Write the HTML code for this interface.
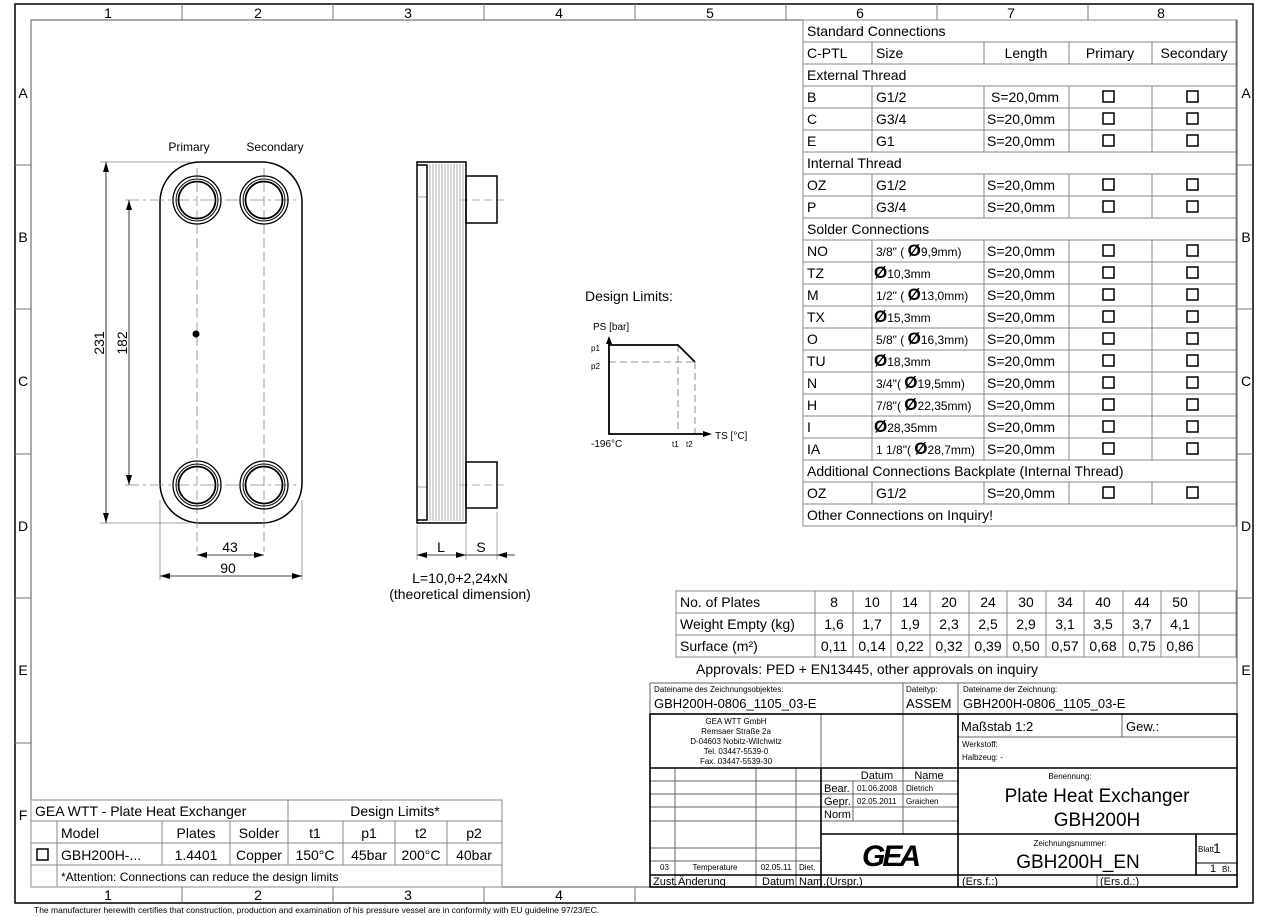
<!DOCTYPE html>
<html><head><meta charset="utf-8"><style>
html,body{margin:0;padding:0;background:#fff;}
svg{display:block;font-family:"Liberation Sans",Arial,sans-serif;}
</style></head><body>
<svg width="1268" height="917" viewBox="0 0 1268 917" xmlns="http://www.w3.org/2000/svg">
<defs>
<marker id="ar" viewBox="0 0 10 6" refX="10" refY="3" markerWidth="10" markerHeight="6" orient="auto-start-reverse" markerUnits="userSpaceOnUse"><path d="M0,0 L10,3 L0,6 z" fill="#000"/></marker>
</defs>
<rect width="1268" height="917" fill="#fff"/>
<rect x="15" y="4" width="1238" height="899" fill="none" stroke="#000" stroke-width="1.5"/>
<rect x="31" y="20" width="1206" height="867" fill="none" stroke="#555" stroke-width="1"/>
<g stroke="#777" stroke-width="1">
<line x1="182" y1="4" x2="182" y2="20"/><line x1="333" y1="4" x2="333" y2="20"/><line x1="484" y1="4" x2="484" y2="20"/><line x1="635" y1="4" x2="635" y2="20"/><line x1="786" y1="4" x2="786" y2="20"/><line x1="937" y1="4" x2="937" y2="20"/><line x1="1088" y1="4" x2="1088" y2="20"/>
<line x1="182" y1="887" x2="182" y2="903"/><line x1="333" y1="887" x2="333" y2="903"/><line x1="484" y1="887" x2="484" y2="903"/><line x1="635" y1="887" x2="635" y2="903"/>
<line x1="15" y1="165" x2="31" y2="165"/><line x1="15" y1="309" x2="31" y2="309"/><line x1="15" y1="454" x2="31" y2="454"/><line x1="15" y1="598" x2="31" y2="598"/><line x1="15" y1="743" x2="31" y2="743"/>
<line x1="1237" y1="165" x2="1253" y2="165"/><line x1="1237" y1="309" x2="1253" y2="309"/><line x1="1237" y1="454" x2="1253" y2="454"/><line x1="1237" y1="598" x2="1253" y2="598"/>
</g>
<g font-size="14" text-anchor="middle">
<text x="108" y="18">1</text><text x="258" y="18">2</text><text x="408" y="18">3</text><text x="559" y="18">4</text><text x="710" y="18">5</text><text x="860" y="18">6</text><text x="1011" y="18">7</text><text x="1161" y="18">8</text>
<text x="108" y="900">1</text><text x="258" y="900">2</text><text x="408" y="900">3</text><text x="559" y="900">4</text>
<text x="23" y="98">A</text><text x="23" y="242">B</text><text x="23" y="386">C</text><text x="23" y="531">D</text><text x="23" y="675">E</text><text x="23" y="820">F</text>
<text x="1246" y="98">A</text><text x="1246" y="242">B</text><text x="1246" y="386">C</text><text x="1246" y="531">D</text><text x="1246" y="675">E</text>
</g>
<text x="34" y="913" font-size="8.5">The manufacturer herewith certifies that construction, production and examination of his pressure vessel are in conformity with EU guideline 97/23/EC.</text>

<text x="189" y="151" font-size="12" text-anchor="middle">Primary</text>
<text x="275" y="151" font-size="12" text-anchor="middle">Secondary</text>
<rect x="160" y="162" width="142" height="361" rx="40" fill="none" stroke="#000" stroke-width="1.5"/>
<g stroke="#888" stroke-width="0.8">
<line x1="100" y1="162" x2="190" y2="162"/><line x1="100" y1="523" x2="190" y2="523"/>
<line x1="125" y1="200" x2="300" y2="200" stroke-dasharray="14,4,3,4"/><line x1="125" y1="485" x2="300" y2="485" stroke-dasharray="14,4,3,4"/>
<line x1="197" y1="168" x2="197" y2="552" stroke-dasharray="10,4"/><line x1="264" y1="168" x2="264" y2="552" stroke-dasharray="10,4"/>
<line x1="160" y1="500" x2="160" y2="580"/><line x1="302" y1="500" x2="302" y2="580"/>
</g>
<g fill="none" stroke="#000">
<circle cx="197" cy="200" r="24" stroke-width="1.3"/><circle cx="197" cy="200" r="21" stroke-width="1"/><circle cx="197" cy="200" r="18.5" stroke-width="1.8"/>
<circle cx="264" cy="200" r="24" stroke-width="1.3"/><circle cx="264" cy="200" r="21" stroke-width="1"/><circle cx="264" cy="200" r="18.5" stroke-width="1.8"/>
<circle cx="197" cy="485" r="24" stroke-width="1.3"/><circle cx="197" cy="485" r="21" stroke-width="1"/><circle cx="197" cy="485" r="18.5" stroke-width="1.8"/>
<circle cx="264" cy="485" r="24" stroke-width="1.3"/><circle cx="264" cy="485" r="21" stroke-width="1"/><circle cx="264" cy="485" r="18.5" stroke-width="1.8"/>
</g>
<circle cx="196" cy="334" r="3.5" fill="#000"/>
<g stroke="#000" stroke-width="0.8" fill="none">
<line x1="106" y1="162" x2="106" y2="523" marker-start="url(#ar)" marker-end="url(#ar)"/>
<line x1="129" y1="200" x2="129" y2="485" marker-start="url(#ar)" marker-end="url(#ar)"/>
<line x1="197" y1="555" x2="264" y2="555" marker-start="url(#ar)" marker-end="url(#ar)"/>
<line x1="160" y1="576" x2="302" y2="576" marker-start="url(#ar)" marker-end="url(#ar)"/>
</g>
<text x="230" y="552" font-size="14" text-anchor="middle">43</text>
<text x="228" y="573" font-size="14" text-anchor="middle">90</text>
<text transform="translate(104,343) rotate(-90)" font-size="14" text-anchor="middle">231</text>
<text transform="translate(127,343) rotate(-90)" font-size="14" text-anchor="middle">182</text>

<g stroke="#999" stroke-width="0.8">
<line x1="430" y1="164" x2="430" y2="521"/><line x1="433" y1="164" x2="433" y2="521"/><line x1="436" y1="164" x2="436" y2="521"/><line x1="439" y1="164" x2="439" y2="521"/><line x1="442" y1="164" x2="442" y2="521"/><line x1="445" y1="164" x2="445" y2="521"/><line x1="448" y1="164" x2="448" y2="521"/><line x1="451" y1="164" x2="451" y2="521"/><line x1="454" y1="164" x2="454" y2="521"/><line x1="457" y1="164" x2="457" y2="521"/><line x1="460" y1="164" x2="460" y2="521"/><line x1="463" y1="164" x2="463" y2="521"/>
<line x1="418" y1="197" x2="427" y2="197"/><line x1="418" y1="487" x2="427" y2="487"/>
<line x1="460" y1="200" x2="506" y2="200" stroke-dasharray="8,4"/><line x1="460" y1="485" x2="506" y2="485" stroke-dasharray="8,4"/>
<line x1="417" y1="525" x2="417" y2="560"/><line x1="466" y1="525" x2="466" y2="560"/><line x1="497" y1="512" x2="497" y2="560"/>
</g>
<g fill="none" stroke="#000" stroke-width="1.5">
<rect x="417" y="162" width="49" height="361"/>
<path d="M417,165 H427 V520 H417"/>
<rect x="466" y="176" width="31" height="47"/>
<rect x="466" y="462" width="31" height="46"/>
</g>
<g stroke="#000" stroke-width="0.8">
<line x1="417" y1="555" x2="466" y2="555" marker-start="url(#ar)" marker-end="url(#ar)"/>
<line x1="466" y1="555" x2="497" y2="555"/>
<line x1="515" y1="555" x2="497" y2="555" marker-end="url(#ar)"/>
</g>
<text x="441" y="552" font-size="14" text-anchor="middle">L</text>
<text x="481" y="552" font-size="14" text-anchor="middle">S</text>
<text x="460" y="583" font-size="14" text-anchor="middle">L=10,0+2,24xN</text>
<text x="460" y="599" font-size="14" text-anchor="middle">(theoretical dimension)</text>

<text x="585" y="301" font-size="14">Design Limits:</text>
<text x="593" y="330" font-size="10">PS [bar]</text>
<text x="591" y="351" font-size="8">p1</text>
<text x="591" y="369" font-size="8">p2</text>
<text x="591" y="447" font-size="10">-196°C</text>
<text x="672" y="447" font-size="8">t1</text>
<text x="686" y="447" font-size="8">t2</text>
<text x="715" y="439" font-size="10">TS [°C]</text>
<g stroke="#777" stroke-width="0.8" stroke-dasharray="7,4" fill="none">
<line x1="609" y1="362" x2="695" y2="362"/><line x1="678" y1="345" x2="678" y2="434"/><line x1="695" y1="362" x2="695" y2="434"/>
</g>
<g stroke="#000" stroke-width="1.8" fill="none">
<polyline points="609,338 609,434 705,434"/>
<polyline points="609,345 678,345 695,362"/>
</g>
<path d="M606,344 L609,336 L612,344 z" fill="#000"/>
<path d="M703,431 L712,434 L703,437 z" fill="#000"/>

<g stroke="#888" stroke-width="1" fill="none">
<rect x="803" y="20" width="433" height="506"/>
<line x1="803" y1="42" x2="1236" y2="42"/><line x1="803" y1="64" x2="1236" y2="64"/><line x1="803" y1="86" x2="1236" y2="86"/><line x1="803" y1="108" x2="1236" y2="108"/><line x1="803" y1="130" x2="1236" y2="130"/><line x1="803" y1="152" x2="1236" y2="152"/><line x1="803" y1="174" x2="1236" y2="174"/><line x1="803" y1="196" x2="1236" y2="196"/><line x1="803" y1="218" x2="1236" y2="218"/><line x1="803" y1="240" x2="1236" y2="240"/><line x1="803" y1="262" x2="1236" y2="262"/><line x1="803" y1="284" x2="1236" y2="284"/><line x1="803" y1="306" x2="1236" y2="306"/><line x1="803" y1="328" x2="1236" y2="328"/><line x1="803" y1="350" x2="1236" y2="350"/><line x1="803" y1="372" x2="1236" y2="372"/><line x1="803" y1="394" x2="1236" y2="394"/><line x1="803" y1="416" x2="1236" y2="416"/><line x1="803" y1="438" x2="1236" y2="438"/><line x1="803" y1="460" x2="1236" y2="460"/><line x1="803" y1="482" x2="1236" y2="482"/><line x1="803" y1="504" x2="1236" y2="504"/>
</g>
<g stroke="#888" stroke-width="1">
<line x1="872" y1="42" x2="872" y2="64"/><line x1="984" y1="42" x2="984" y2="64"/><line x1="1069" y1="42" x2="1069" y2="64"/><line x1="1152" y1="42" x2="1152" y2="64"/>
<line x1="872" y1="86" x2="872" y2="152"/><line x1="984" y1="86" x2="984" y2="152"/><line x1="1069" y1="86" x2="1069" y2="152"/><line x1="1152" y1="86" x2="1152" y2="152"/>
<line x1="872" y1="174" x2="872" y2="218"/><line x1="984" y1="174" x2="984" y2="218"/><line x1="1069" y1="174" x2="1069" y2="218"/><line x1="1152" y1="174" x2="1152" y2="218"/>
<line x1="872" y1="240" x2="872" y2="460"/><line x1="984" y1="240" x2="984" y2="460"/><line x1="1069" y1="240" x2="1069" y2="460"/><line x1="1152" y1="240" x2="1152" y2="460"/>
<line x1="872" y1="482" x2="872" y2="504"/><line x1="984" y1="482" x2="984" y2="504"/><line x1="1069" y1="482" x2="1069" y2="504"/><line x1="1152" y1="482" x2="1152" y2="504"/>
</g>
<g font-size="14">
<text x="807" y="36">Standard Connections</text>
<text x="807" y="58">C-PTL</text><text x="876" y="58">Size</text><text x="1026" y="58" text-anchor="middle">Length</text><text x="1110" y="58" text-anchor="middle">Primary</text><text x="1194" y="58" text-anchor="middle">Secondary</text>
<text x="807" y="80">External Thread</text>
<text x="807" y="102">B</text><text x="876" y="102">G1/2</text><text x="991" y="102">S=20,0mm</text>
<text x="807" y="124">C</text><text x="876" y="124">G3/4</text><text x="987" y="124">S=20,0mm</text>
<text x="807" y="146">E</text><text x="876" y="146">G1</text><text x="987" y="146">S=20,0mm</text>
<text x="807" y="168">Internal Thread</text>
<text x="807" y="190">OZ</text><text x="876" y="190">G1/2</text><text x="987" y="190">S=20,0mm</text>
<text x="807" y="212">P</text><text x="876" y="212">G3/4</text><text x="987" y="212">S=20,0mm</text>
<text x="807" y="234">Solder Connections</text>
<text x="807" y="256">NO</text><text x="987" y="256">S=20,0mm</text>
<text x="807" y="278">TZ</text><text x="987" y="278">S=20,0mm</text>
<text x="807" y="300">M</text><text x="987" y="300">S=20,0mm</text>
<text x="807" y="322">TX</text><text x="987" y="322">S=20,0mm</text>
<text x="807" y="344">O</text><text x="987" y="344">S=20,0mm</text>
<text x="807" y="366">TU</text><text x="987" y="366">S=20,0mm</text>
<text x="807" y="388">N</text><text x="987" y="388">S=20,0mm</text>
<text x="807" y="410">H</text><text x="987" y="410">S=20,0mm</text>
<text x="807" y="432">I</text><text x="987" y="432">S=20,0mm</text>
<text x="807" y="454">IA</text><text x="987" y="454">S=20,0mm</text>
<text x="807" y="476">Additional Connections Backplate (Internal Thread)</text>
<text x="807" y="498">OZ</text><text x="876" y="498">G1/2</text><text x="987" y="498">S=20,0mm</text>
<text x="807" y="520">Other Connections on Inquiry!</text>
</g>
<g font-size="12">
<text x="876" y="256">3/8" ( <tspan font-size="17" font-weight="bold">Ø</tspan>9,9mm)</text>
<text x="874" y="278"><tspan font-size="17" font-weight="bold">Ø</tspan>10,3mm</text>
<text x="876" y="300">1/2" ( <tspan font-size="17" font-weight="bold">Ø</tspan>13,0mm)</text>
<text x="874" y="322"><tspan font-size="17" font-weight="bold">Ø</tspan>15,3mm</text>
<text x="876" y="344">5/8" (  <tspan font-size="17" font-weight="bold">Ø</tspan>16,3mm)</text>
<text x="874" y="366"><tspan font-size="17" font-weight="bold">Ø</tspan>18,3mm</text>
<text x="876" y="388">3/4"( <tspan font-size="17" font-weight="bold">Ø</tspan>19,5mm)</text>
<text x="876" y="410">7/8"( <tspan font-size="17" font-weight="bold">Ø</tspan>22,35mm)</text>
<text x="874" y="432"><tspan font-size="17" font-weight="bold">Ø</tspan>28,35mm</text>
<text x="876" y="454">1 1/8"( <tspan font-size="17" font-weight="bold">Ø</tspan>28,7mm)</text>
</g>
<g fill="none" stroke="#000" stroke-width="1.5">
<rect x="1103" y="91" width="11" height="11"/><rect x="1187" y="91" width="11" height="11"/>
<rect x="1103" y="113" width="11" height="11"/><rect x="1187" y="113" width="11" height="11"/>
<rect x="1103" y="135" width="11" height="11"/><rect x="1187" y="135" width="11" height="11"/>
<rect x="1103" y="179" width="11" height="11"/><rect x="1187" y="179" width="11" height="11"/>
<rect x="1103" y="201" width="11" height="11"/><rect x="1187" y="201" width="11" height="11"/>
<rect x="1103" y="245" width="11" height="11"/><rect x="1187" y="245" width="11" height="11"/>
<rect x="1103" y="267" width="11" height="11"/><rect x="1187" y="267" width="11" height="11"/>
<rect x="1103" y="289" width="11" height="11"/><rect x="1187" y="289" width="11" height="11"/>
<rect x="1103" y="311" width="11" height="11"/><rect x="1187" y="311" width="11" height="11"/>
<rect x="1103" y="333" width="11" height="11"/><rect x="1187" y="333" width="11" height="11"/>
<rect x="1103" y="355" width="11" height="11"/><rect x="1187" y="355" width="11" height="11"/>
<rect x="1103" y="377" width="11" height="11"/><rect x="1187" y="377" width="11" height="11"/>
<rect x="1103" y="399" width="11" height="11"/><rect x="1187" y="399" width="11" height="11"/>
<rect x="1103" y="421" width="11" height="11"/><rect x="1187" y="421" width="11" height="11"/>
<rect x="1103" y="443" width="11" height="11"/><rect x="1187" y="443" width="11" height="11"/>
<rect x="1103" y="487" width="11" height="11"/><rect x="1187" y="487" width="11" height="11"/>
</g>

<g stroke="#888" stroke-width="1" fill="none">
<rect x="676" y="591" width="560" height="66"/>
<line x1="676" y1="613" x2="1236" y2="613"/><line x1="676" y1="635" x2="1236" y2="635"/>
<line x1="815" y1="591" x2="815" y2="657"/><line x1="853" y1="591" x2="853" y2="657"/><line x1="891" y1="591" x2="891" y2="657"/><line x1="930" y1="591" x2="930" y2="657"/><line x1="969" y1="591" x2="969" y2="657"/><line x1="1007" y1="591" x2="1007" y2="657"/><line x1="1046" y1="591" x2="1046" y2="657"/><line x1="1084" y1="591" x2="1084" y2="657"/><line x1="1123" y1="591" x2="1123" y2="657"/><line x1="1161" y1="591" x2="1161" y2="657"/><line x1="1199" y1="591" x2="1199" y2="657"/>
</g>
<g font-size="14">
<text x="680" y="607">No. of Plates</text><text x="680" y="629">Weight Empty (kg)</text><text x="680" y="651">Surface (m²)</text>
</g>
<g font-size="14" text-anchor="middle">
<text x="834" y="607">8</text><text x="872" y="607">10</text><text x="910" y="607">14</text><text x="949" y="607">20</text><text x="988" y="607">24</text><text x="1026" y="607">30</text><text x="1065" y="607">34</text><text x="1103" y="607">40</text><text x="1142" y="607">44</text><text x="1180" y="607">50</text>
<text x="834" y="629">1,6</text><text x="872" y="629">1,7</text><text x="910" y="629">1,9</text><text x="949" y="629">2,3</text><text x="988" y="629">2,5</text><text x="1026" y="629">2,9</text><text x="1065" y="629">3,1</text><text x="1103" y="629">3,5</text><text x="1142" y="629">3,7</text><text x="1180" y="629">4,1</text>
<text x="834" y="651">0,11</text><text x="872" y="651">0,14</text><text x="910" y="651">0,22</text><text x="949" y="651">0,32</text><text x="988" y="651">0,39</text><text x="1026" y="651">0,50</text><text x="1065" y="651">0,57</text><text x="1103" y="651">0,68</text><text x="1142" y="651">0,75</text><text x="1180" y="651">0,86</text>
</g>
<text x="696" y="674" font-size="14">Approvals: PED + EN13445, other approvals on inquiry</text>

<g stroke="#666" stroke-width="1" fill="none">
<line x1="650" y1="683" x2="1237" y2="683"/>
<line x1="650" y1="683" x2="650" y2="887"/>
<line x1="903" y1="683" x2="903" y2="714"/><line x1="958" y1="683" x2="958" y2="714"/>
<line x1="821" y1="714" x2="821" y2="768"/><line x1="903" y1="714" x2="903" y2="768"/>
<line x1="1122" y1="714" x2="1122" y2="737"/><line x1="958" y1="737" x2="1237" y2="737"/>
<line x1="650" y1="781" x2="821" y2="781"/><line x1="650" y1="794" x2="958" y2="794"/><line x1="650" y1="807" x2="958" y2="807"/><line x1="650" y1="821" x2="958" y2="821"/><line x1="650" y1="848" x2="821" y2="848"/><line x1="650" y1="861" x2="821" y2="861"/>
<line x1="821" y1="781" x2="958" y2="781"/>
<line x1="675" y1="768" x2="675" y2="887"/><line x1="756" y1="768" x2="756" y2="887"/><line x1="796" y1="768" x2="796" y2="887"/>
<line x1="853" y1="781" x2="853" y2="821"/><line x1="903" y1="768" x2="903" y2="834"/>
<line x1="1097" y1="875" x2="1097" y2="887"/>
</g>
<g stroke="#000" stroke-width="1.6" fill="none">
<rect x="650" y="714" width="587" height="173"/>
<line x1="958" y1="714" x2="958" y2="887"/>
<line x1="650" y1="768" x2="1237" y2="768"/>
<line x1="821" y1="768" x2="821" y2="887"/>
<line x1="821" y1="834" x2="1237" y2="834"/>
<line x1="650" y1="875" x2="1237" y2="875"/>
<line x1="1196" y1="834" x2="1196" y2="875"/>
<line x1="1196" y1="863" x2="1237" y2="863" stroke-width="1"/>
</g>
<g font-size="8">
<text x="654" y="692">Dateiname des Zeichnungsobjektes:</text>
<text x="906" y="692">Dateityp:</text>
<text x="963" y="692">Dateiname der Zeichnung:</text>
<text x="962" y="747">Werkstoff:</text>
<text x="962" y="760">Halbzeug: -</text>
<text x="1070" y="779" text-anchor="middle">Benennung:</text>
<text x="1070" y="846" text-anchor="middle">Zeichnungsnummer:</text>
<text x="1198" y="852">Blatt</text>
<text x="660" y="870">03</text><text x="715" y="870" text-anchor="middle">Temperature</text><text x="776" y="870" text-anchor="middle">02.05.11</text><text x="799" y="870">Diet.</text>
<text x="857" y="791">01.06.2008</text><text x="906" y="791">Dietrich</text>
<text x="857" y="804">02.05.2011</text><text x="906" y="804">Graichen</text>
</g>
<g font-size="8" text-anchor="middle">
<text x="736" y="724">GEA WTT GmbH</text>
<text x="736" y="734">Remsaer Straße 2a</text>
<text x="736" y="744">D-04603 Nobitz-Wilchwitz</text>
<text x="736" y="754">Tel. 03447-5539-0</text>
<text x="736" y="764">Fax. 03447-5539-30</text>
</g>
<g font-size="13">
<text x="654" y="708">GBH200H-0806_1105_03-E</text>
<text x="906" y="708">ASSEM</text>
<text x="963" y="708">GBH200H-0806_1105_03-E</text>
<text x="961" y="731">Maßstab 1:2</text>
<text x="1126" y="731">Gew.:</text>
</g>
<g font-size="11">
<text x="877" y="779" text-anchor="middle">Datum</text><text x="929" y="779" text-anchor="middle">Name</text>
<text x="824" y="792">Bear.</text><text x="824" y="805">Gepr.</text><text x="824" y="818">Norm</text>
<text x="653" y="885">Zust.</text><text x="678" y="885">Änderung</text><text x="762" y="885">Datum</text><text x="799" y="885">Nam</text><text x="823" y="885">.(Urspr.)</text>
<text x="962" y="885">(Ers.f.:)</text><text x="1100" y="885">(Ers.d.:)</text>
<text x="1210" y="872">1</text><text x="1222" y="872" font-size="8">Bl.</text>
</g>
<text x="1213" y="853" font-size="14">1</text>
<text x="1097" y="802" font-size="19" text-anchor="middle">Plate Heat Exchanger</text>
<text x="1097" y="826" font-size="19" text-anchor="middle">GBH200H</text>
<text x="1078" y="868" font-size="19" text-anchor="middle">GBH200H_EN</text>
<text x="890" y="866" font-size="30" font-weight="bold" text-anchor="middle" font-style="italic" letter-spacing="-3">GEA</text>

<g stroke="#888" stroke-width="1" fill="none">
<rect x="31" y="800" width="471" height="87"/>
<line x1="31" y1="821" x2="502" y2="821"/><line x1="31" y1="843" x2="502" y2="843"/><line x1="31" y1="865" x2="502" y2="865"/>
<line x1="57" y1="821" x2="57" y2="887"/>
<line x1="288" y1="800" x2="288" y2="865"/>
<line x1="162" y1="821" x2="162" y2="865"/><line x1="230" y1="821" x2="230" y2="865"/><line x1="343" y1="821" x2="343" y2="865"/><line x1="395" y1="821" x2="395" y2="865"/><line x1="447" y1="821" x2="447" y2="865"/>
</g>
<rect x="37" y="849" width="11" height="11" fill="none" stroke="#000" stroke-width="1.5"/>
<g font-size="14">
<text x="35" y="816">GEA WTT - Plate Heat Exchanger</text>
<text x="395" y="816" text-anchor="middle">Design Limits*</text>
<text x="61" y="838">Model</text><text x="196" y="838" text-anchor="middle">Plates</text><text x="259" y="838" text-anchor="middle">Solder</text><text x="315" y="838" text-anchor="middle">t1</text><text x="369" y="838" text-anchor="middle">p1</text><text x="421" y="838" text-anchor="middle">t2</text><text x="474" y="838" text-anchor="middle">p2</text>
<text x="61" y="860">GBH200H-...</text><text x="196" y="860" text-anchor="middle">1.4401</text><text x="259" y="860" text-anchor="middle">Copper</text><text x="315" y="860" text-anchor="middle">150°C</text><text x="369" y="860" text-anchor="middle">45bar</text><text x="421" y="860" text-anchor="middle">200°C</text><text x="474" y="860" text-anchor="middle">40bar</text>
</g>
<text x="61" y="881" font-size="12">*Attention: Connections can reduce the design limits</text>
</svg>
</body></html>
